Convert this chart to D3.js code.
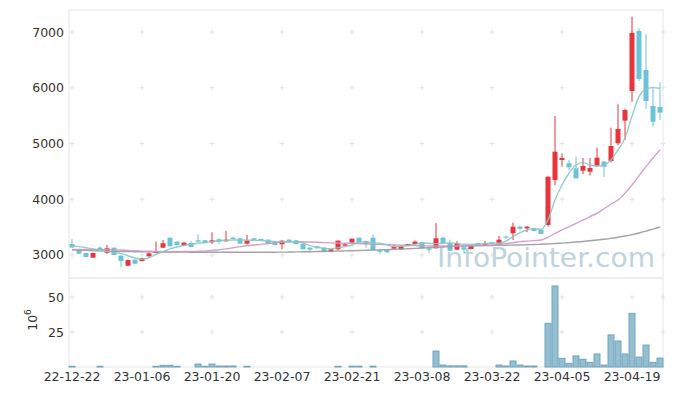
<!DOCTYPE html>
<html>
<head>
<meta charset="utf-8">
<script src="https://cdn.jsdelivr.net/npm/d3@7"></script>
<style>
  body { margin: 0; background: #fff; }
  svg text { font-family: "DejaVu Sans", sans-serif; }
</style>
</head>
<body>
<svg id="chart" width="673" height="396"></svg>
<script>
// trading days, 22-12-22 .. 23-04-25
const dates = [
  "22-12-22","22-12-23","22-12-26","22-12-27","22-12-28","22-12-29",
  "23-01-02","23-01-03","23-01-04","23-01-05","23-01-06",
  "23-01-09","23-01-10","23-01-11","23-01-12","23-01-13",
  "23-01-16","23-01-17","23-01-18","23-01-19","23-01-20",
  "23-01-25","23-01-26","23-01-27","23-01-30","23-01-31",
  "23-02-01","23-02-02","23-02-03","23-02-06","23-02-07",
  "23-02-08","23-02-09","23-02-10","23-02-13","23-02-14",
  "23-02-15","23-02-16","23-02-17","23-02-20","23-02-21",
  "23-02-22","23-02-23","23-02-24","23-02-27","23-02-28",
  "23-03-02","23-03-03","23-03-06","23-03-07","23-03-08",
  "23-03-09","23-03-10","23-03-13","23-03-14","23-03-15",
  "23-03-16","23-03-17","23-03-20","23-03-21","23-03-22",
  "23-03-23","23-03-24","23-03-27","23-03-28","23-03-29",
  "23-03-30","23-03-31","23-04-03","23-04-04","23-04-05",
  "23-04-06","23-04-07","23-04-10","23-04-11","23-04-12",
  "23-04-13","23-04-14","23-04-17","23-04-18","23-04-19",
  "23-04-20","23-04-21","23-04-24","23-04-25"
];

const open = [3197,3090,3036,2952,3131,3041,3131,2988,2808,2916,2892,2976,3036,3131,3310,3239,3179,3215,3263,3263,
  3228,3281,3245,3310,3299,3203,3299,3287,3275,3227,3192,3275,3263,3197,3131,3156,3131,3059,3102,3167,
  3221,3310,3251,3310,3084,3095,3113,3102,3161,3197,3228,3120,3120,3310,3210,3095,3138,3108,3215,3167,
  3228,3192,3330,3389,3508,3478,3484,3448,3538,4346,4704,4645,4555,4512,4494,4602,4674,4686,5004,5410,
  5942,7019,6319,5673,5655];
const high = [3287,3100,3040,3040,3156,3179,3135,2992,2915,2920,2950,3045,3239,3269,3315,3245,3230,3251,3371,3270,
  3407,3300,3430,3320,3305,3359,3305,3292,3280,3232,3262,3281,3268,3201,3140,3160,3135,3108,3262,3210,
  3298,3315,3256,3371,3110,3100,3180,3166,3202,3262,3233,3125,3574,3330,3275,3250,3143,3172,3220,3250,
  3233,3340,3345,3580,3525,3515,3490,3455,4410,5493,4825,4700,4764,4740,4740,4925,4690,5284,5703,5620,
  7275,7067,6960,6020,6098];
const low = [3125,3015,2960,2948,3066,3020,2995,2785,2800,2840,2885,2970,3030,3125,3150,3175,3170,3138,3233,3210,
  3197,3200,3240,3275,3198,3185,3265,3258,3192,3175,3102,3235,3192,3098,3054,3115,3050,3055,3090,3163,
  3215,3224,3130,3085,3010,3043,3108,3097,3156,3192,3115,3036,3115,3205,3072,3090,3036,3103,3174,3162,
  3198,3187,3290,3269,3440,3410,3425,3370,3508,4256,4584,4520,4370,4450,4425,4580,4400,4660,4970,5063,
  5750,6122,5619,5302,5422];
const close = [3135,3023,2964,3036,3072,3120,3000,2892,2910,2844,2940,3030,3059,3210,3156,3179,3221,3143,3239,3215,
  3263,3239,3275,3287,3203,3257,3269,3263,3197,3179,3257,3239,3197,3102,3095,3120,3059,3102,3257,3192,
  3292,3228,3192,3090,3059,3048,3149,3161,3197,3239,3120,3095,3299,3210,3077,3215,3095,3167,3179,3203,
  3203,3275,3318,3508,3472,3508,3430,3377,4404,4853,4740,4573,4376,4596,4560,4745,4584,4955,5260,5601,
  6983,6158,5763,5391,5553];

// volume, millions of shares
const volume = [0.5,0,0,0,0.5,0,0,0,0,0,0,0,0.5,1.2,1.2,0.5,0,0,2.1,0.5,
  2.1,0.7,0.7,0.7,0,0.5,0,0,0,0,0,0,0,0,0,0,0,0,0.5,0,
  0.6,0.6,0,0.6,0,0,0,0,0,0,0,0,11.4,1.4,0.8,0.8,0.8,0,0,0,
  0,1.4,0.7,4.3,1.4,0.7,0.7,0,31.2,57.9,6.2,2.6,7.9,5.5,3.3,9.3,1.4,22.9,18.6,9.3,
  38.3,7.1,15.7,3.3,6.4];

// moving averages
const ma5 = [3167,3150,3131,3110,3090,3065,3045,3030,2985,2945,2922,2950,3012,3059,3108,3143,3170,3192,3210,3225,
  3239,3255,3265,3269,3270,3266,3262,3260,3252,3239,3235,3237,3239,3215,3167,3140,3120,3110,3131,3150,
  3179,3234,3230,3220,3210,3180,3150,3155,3167,3190,3215,3210,3203,3210,3215,3205,3192,3190,3192,3200,
  3215,3210,3250,3330,3400,3448,3472,3460,3628,3987,4256,4466,4614,4656,4614,4596,4614,4704,4884,5100,
  5490,5840,5978,6002,5990];
const ma20 = [3100,3100,3098,3097,3095,3094,3092,3088,3082,3076,3070,3066,3062,3060,3059,3060,3062,3064,3066,3070,
  3080,3095,3110,3130,3150,3165,3178,3190,3205,3220,3230,3237,3239,3236,3232,3228,3222,3218,3214,3212,
  3210,3205,3200,3195,3190,3185,3180,3177,3172,3168,3164,3162,3161,3162,3163,3165,3168,3171,3174,3177,
  3179,3190,3205,3220,3239,3248,3258,3269,3320,3389,3450,3510,3568,3625,3690,3748,3830,3910,3987,4110,
  4256,4420,4584,4740,4884];
const ma60 = [3090,3086,3082,3078,3074,3070,3067,3064,3061,3059,3057,3056,3055,3054,3053,3052,3051,3050,3050,3049,
  3049,3048,3048,3048,3048,3048,3048,3048,3049,3050,3051,3053,3055,3057,3059,3062,3065,3068,3071,3074,
  3077,3080,3084,3088,3092,3096,3101,3106,3112,3118,3126,3132,3138,3144,3150,3154,3158,3162,3165,3168,
  3171,3173,3175,3177,3180,3183,3187,3192,3198,3205,3213,3222,3232,3243,3255,3268,3282,3298,3318,3340,
  3365,3395,3428,3465,3502];

const priceTicks = [3000, 4000, 5000, 6000, 7000];
const volumeTicks = [25, 50];
const dateTicks = ["22-12-22","23-01-06","23-01-20","23-02-07","23-02-21","23-03-08","23-03-22","23-04-05","23-04-19"];

const rows = dates.map((d, i) => ({
  date: d, open: open[i], high: high[i], low: low[i], close: close[i],
  vol: volume[i], ma5: ma5[i], ma20: ma20[i], ma60: ma60[i]
}));

const svg = d3.select("#chart");
const pLeft = 69, pRight = 663, pTop = 10, pMid = 278, pBottom = 367;

// scales
var x = d3.scaleBand().domain(dates).range([pLeft - 0.5, pRight + 0.5]);
const cx = d => x(d) + x.bandwidth() / 2;
var y = d3.scaleLinear().domain([2587, 7395]).range([pMid, pTop]);
var yv = d3.scaleLinear().domain([0, 63.6]).range([pBottom, pMid]);

// panel frames
svg.append("rect").attr("x", pLeft).attr("y", pTop).attr("width", pRight - pLeft).attr("height", pMid - pTop)
  .attr("fill", "none").attr("stroke", "#e6e6e6");
svg.append("rect").attr("x", pLeft).attr("y", pMid).attr("width", pRight - pLeft).attr("height", pBottom - pMid)
  .attr("fill", "none").attr("stroke", "#e6e6e6");

// grid crosses
const crosses = [];
dateTicks.forEach(d => {
  priceTicks.forEach(v => crosses.push([cx(d), y(v)]));
  volumeTicks.forEach(v => crosses.push([cx(d), yv(v)]));
});
priceTicks.forEach(v => crosses.push([pRight, y(v)]));
volumeTicks.forEach(v => crosses.push([pRight, yv(v)]));
svg.append("g").selectAll("path").data(crosses).join("path")
  .attr("d", p => `M${p[0] - 2.5},${p[1]}H${p[0] + 2.5}M${p[0]},${p[1] - 2.5}V${p[1] + 2.5}`)
  .attr("stroke", "#e2e2e2").attr("stroke-width", 1);

// watermark
svg.append("text").attr("x", 437).attr("y", 267)
  .attr("textLength", 218).attr("lengthAdjust", "spacingAndGlyphs")
  .style("font-size", "27px").attr("fill", "#bdd3de")
  .text("InfoPointer.com");

// y axes
svg.append("g").attr("transform", `translate(${pLeft},0)`)
  .call(d3.axisLeft(y).tickValues(priceTicks).tickFormat(d3.format("d")).tickSize(0).tickPadding(5))
  .call(g => g.select(".domain").remove())
  .selectAll("text").style("font-size", "12.5px").attr("fill", "#333");
svg.append("g").attr("transform", `translate(${pLeft},0)`)
  .call(d3.axisLeft(yv).tickValues(volumeTicks).tickFormat(d3.format("d")).tickSize(0).tickPadding(5))
  .call(g => g.select(".domain").remove())
  .selectAll("text").style("font-size", "12.5px").attr("fill", "#333");

// x axis
svg.append("g").attr("transform", `translate(0,${pBottom})`)
  .call(d3.axisBottom(x).tickValues(dateTicks).tickSize(0).tickPadding(5))
  .call(g => g.select(".domain").remove())
  .selectAll("text").style("font-size", "12.5px").attr("fill", "#333");

// volume unit label
const unit = svg.append("text").attr("transform", "translate(37,320) rotate(-90)")
  .attr("text-anchor", "middle").style("font-size", "12.5px").attr("fill", "#333");
unit.append("tspan").text("10");
unit.append("tspan").attr("dy", -6).style("font-size", "9px").text("6");

// volume bars
svg.append("g").selectAll("rect").data(rows.filter(d => d.vol > 0)).join("rect")
  .attr("x", d => x(d.date) + 0.5)
  .attr("y", d => yv(d.vol))
  .attr("width", x.bandwidth() - 1)
  .attr("height", d => pBottom - yv(d.vol))
  .attr("fill", "#95bfd1").attr("stroke", "#6ea5bd").attr("stroke-width", 1);

// candles
const up = "#e8343d", down = "#6ac3d8";
const candles = svg.append("g").selectAll("g").data(rows).join("g")
  .attr("stroke", d => d.close >= d.open ? up : down)
  .attr("fill", d => d.close >= d.open ? up : down);
candles.append("line")
  .attr("x1", d => cx(d.date)).attr("x2", d => cx(d.date))
  .attr("y1", d => y(d.high)).attr("y2", d => y(d.low))
  .attr("stroke-width", 1);
candles.append("rect")
  .attr("x", d => cx(d.date) - 2.5)
  .attr("y", d => y(Math.max(d.open, d.close)))
  .attr("width", 5)
  .attr("height", d => Math.max(1, Math.abs(y(d.open) - y(d.close))))
  .attr("stroke", "none");

// moving averages
const maLine = key => d3.line().x(d => cx(d.date)).y(d => y(d[key])).curve(d3.curveMonotoneX);
[["ma60", "#999999"], ["ma20", "#cf95c9"], ["ma5", "#8ac8bf"]].forEach(([k, c]) => {
  svg.append("path").datum(rows).attr("d", maLine(k))
    .attr("fill", "none").attr("stroke", c).attr("stroke-width", 1.4).attr("opacity", 0.9);
});
</script>
</body>
</html>
